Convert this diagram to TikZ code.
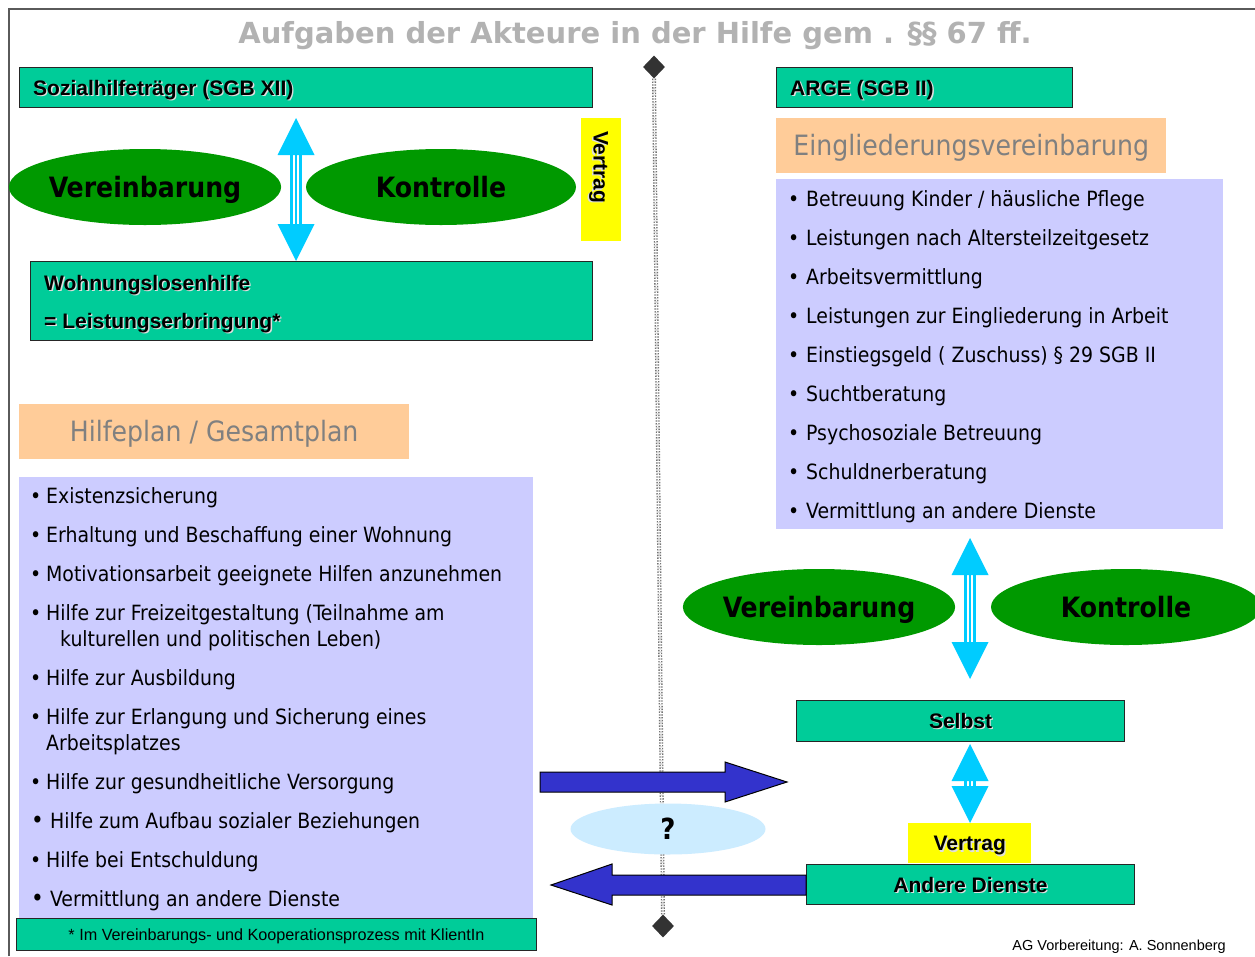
\documentclass[tikz,border=0pt]{standalone}
\usepackage{fontspec}
\setmainfont{Liberation Sans}
\newfontfamily\tah{DejaVu Sans Condensed}
\newfontfamily\verd{DejaVu Sans}
\usetikzlibrary{shapes.geometric,calc}
\definecolor{tealc}{HTML}{00CC99}
\definecolor{greenc}{HTML}{009900}
\definecolor{cyanc}{HTML}{00CCFF}
\definecolor{yelc}{HTML}{FFFF00}
\definecolor{orc}{HTML}{FFCC99}
\definecolor{lavc}{HTML}{CCCCFF}
\definecolor{bluec}{HTML}{3333CC}
\definecolor{lbc}{HTML}{CCECFF}
\definecolor{titlec}{HTML}{B2B2B2}
\definecolor{ortext}{HTML}{808080}
\definecolor{framec}{HTML}{5A5A5A}
\definecolor{diac}{HTML}{333333}
\newcommand\shtxt[1]{\makebox[0pt][l]{\kern1.3pt\raisebox{-1.3pt}{\color{white!75!gray}#1}}#1}
\newcommand\itm[2][16pt]{\makebox[#1][l]{•}#2}
\newcommand\itmb[2][19pt]{\makebox[#1][l]{\fontsize{24}{24}\selectfont\raisebox{-0.5pt}{•}}#2}
\newcommand\hdrfont{\bfseries\fontsize{21}{24}\selectfont}
\newcommand\cyanarrow[2]{%
  \fill[cyanc] (#1) -- ++(18.5,37) -- ++(-37,0) -- cycle;
  \fill[cyanc] (#2) -- ++(18.5,-37) -- ++(-37,0) -- cycle;
  \foreach \dx in {-4.5,0,4.5}
    \draw[cyanc,line width=2.6pt] ($(#1)+(\dx,36)$) -- ($(#2)+(\dx,-36)$);
}
\tikzset{
  box/.style={inner sep=0pt, anchor=north west},
  tealbox/.style={box, draw=black!85, line width=1pt, fill=tealc, font=\hdrfont, text height=15pt, text depth=0pt},
  orbox/.style={box, fill=orc, text=ortext, font=\tah\fontsize{28}{30}\selectfont, text height=20pt, text depth=0pt},
  lavbox/.style={box, fill=lavc},
  yelbox/.style={inner sep=0pt, fill=yelc, font=\hdrfont, text height=15pt, text depth=0pt},
  oval/.style={ellipse, fill=greenc, minimum width=270pt, minimum height=76pt, inner sep=0pt,
    font=\tah\bfseries\fontsize{28}{30}\selectfont, text height=20.5pt, text depth=0pt},
  hdr/.style={anchor=base west, inner sep=0pt, font=\hdrfont},
  li/.style={anchor=base west, inner sep=0pt, font=\tah\fontsize{21}{24}\selectfont},
  dia/.style={diamond, fill=diac, minimum width=22pt, minimum height=23pt, inner sep=0pt},
  dline/.style={draw=black!55, line width=1.4pt, dash pattern=on 1.4pt off 1.4pt, double=white, double distance=1.2pt},
  bluearr/.style={fill=bluec, draw=black, line width=1pt, line join=miter},
}
\begin{document}
\begin{tikzpicture}[x=1pt,y=-1pt]
\useasboundingbox (0,0) rectangle (1255,956);
\fill[white] (0,0) rectangle (1255,956);
\draw[framec, line width=2pt] (9,956) -- (9,8.5) -- (1255,8.5);

% title
\node[font=\verd\bfseries\fontsize{29}{31}\selectfont, text=titlec, anchor=base, inner sep=0pt] (title) at (635,43) {Aufgaben der Akteure in der Hilfe gem . §§ 67 ff.};

% centre divider
\node[dia] (dtop) at (654,67) {};
\node[dia] (dbot) at (663,926) {};
\draw[dline] (dtop.south) -- (dbot.north);

% left top
\node[tealbox, minimum width=573pt, minimum height=40pt] (soz) at (19,67) {};
\node[hdr] (sozt) at ($(soz.west)+(14,7.5)$) {\shtxt{Sozialhilfeträger (SGB XII)}};
\node[oval] (ver1) at (145,187) {Vereinbarung};
\node[oval] (kon1) at (441,187) {Kontrolle};
\node[yelbox, rotate=-90, minimum width=123pt, minimum height=40pt, text width=97pt, align=left, inner xsep=13pt] (vert1) at (601,179.5) {\shtxt{Vertrag}};
\node[tealbox, minimum width=562pt, minimum height=79pt] (woh) at (30,261) {};
\node[hdr] (woht1) at ($(woh.north west)+(14,29.5)$) {\shtxt{Wohnungslosenhilfe}};
\node[hdr] (woht2) at ($(woh.north west)+(14,67.5)$) {\shtxt{= Leistungserbringung*}};
\coordinate (a1t) at (296,118);
\coordinate (a1b) at (a1t |- woh.north);
\cyanarrow{a1t}{a1b}

% left plan
\node[orbox, minimum width=390pt, minimum height=55pt] (hp) at (19,404) {Hilfeplan / Gesamtplan};
\node[lavbox, minimum width=514pt, minimum height=441pt] (lavL) at (19,477) {};
\node[li] (l1) at (30,503) {\itm{Existenzsicherung}};
\node[li] (l2) at (30,542) {\itm{Erhaltung und Beschaffung einer Wohnung}};
\node[li] (l3) at (30,581) {\itm{Motivationsarbeit geeignete Hilfen anzunehmen}};
\node[li] (l4) at (30,620) {\itm{Hilfe zur Freizeitgestaltung (Teilnahme am}};
\node[li] (l4b) at (60,646) {kulturellen und politischen Leben)};
\node[li] (l5) at (30,685) {\itm{Hilfe zur Ausbildung}};
\node[li] (l6) at (30,724) {\itm{Hilfe zur Erlangung und Sicherung eines}};
\node[li] (l6b) at (46,750) {Arbeitsplatzes};
\node[li] (l7) at (30,789) {\itm{Hilfe zur gesundheitliche Versorgung}};
\node[li] (l8) at (31,828) {\itmb{Hilfe zum Aufbau sozialer Beziehungen}};
\node[li] (l9) at (30,867) {\itm{Hilfe bei Entschuldung}};
\node[li] (l10) at (31,906) {\itmb{Vermittlung an andere Dienste}};
\node[tealbox, minimum width=520pt, minimum height=32pt, font=\fontsize{16.2}{18}\selectfont, text height=11.5pt] (foot) at (16,918) {* Im Vereinbarungs- und Kooperationsprozess mit KlientIn};

% right top
\node[tealbox, minimum width=296pt, minimum height=40pt] (arge) at (776,67) {};
\node[hdr] (arget) at ($(arge.west)+(14,7.5)$) {\shtxt{ARGE (SGB II)}};
\node[orbox, minimum width=390pt, minimum height=55pt] (ev) at (776,118) {Eingliederungsvereinbarung};
\node[lavbox, minimum width=447pt, minimum height=350pt] (lavR) at (776,179) {};
\node[li] (r1) at (788,206) {\itm[18pt]{Betreuung Kinder / häusliche Pflege}};
\node[li] (r2) at (788,245) {\itm[18pt]{Leistungen nach Altersteilzeitgesetz}};
\node[li] (r3) at (788,284) {\itm[18pt]{Arbeitsvermittlung}};
\node[li] (r4) at (788,323) {\itm[18pt]{Leistungen zur Eingliederung in Arbeit}};
\node[li] (r5) at (788,362) {\itm[18pt]{Einstiegsgeld ( Zuschuss) § 29 SGB II}};
\node[li] (r6) at (788,401) {\itm[18pt]{Suchtberatung}};
\node[li] (r7) at (788,440) {\itm[18pt]{Psychosoziale Betreuung}};
\node[li] (r8) at (788,479) {\itm[18pt]{Schuldnerberatung}};
\node[li] (r9) at (788,518) {\itm[18pt]{Vermittlung an andere Dienste}};

\node[oval] (ver2) at (819,607) {Vereinbarung};
\node[oval] (kon2) at (1126,607) {Kontrolle};
\coordinate (a2t) at (970,538);
\coordinate (a2b) at (970,679);
\cyanarrow{a2t}{a2b}

\node[tealbox, minimum width=328pt, minimum height=41pt] (selbst) at (796,700) {\shtxt{Selbst}};
\node[yelbox, anchor=north west, minimum width=123pt, minimum height=40pt] (vert2) at (908,823) {\shtxt{Vertrag}};
\node[tealbox, minimum width=328pt, minimum height=40pt] (andere) at (806,864) {\shtxt{Andere Dienste}};
\coordinate (a3t) at ($(selbst.south -| 970,0)+(0,2)$);
\coordinate (a3b) at (vert2.north -| a3t);
\cyanarrow{a3t}{a3b}

% blue arrows and question
\draw[bluearr] (540,772) -- (725,772) -- (725,762) -- (787,782) -- (725,802) -- (725,792) -- (540,792) -- cycle;
\draw[bluearr] (andere.west |- 0,875) -- (612,875) -- (612,864) -- (551,885) -- (612,905) -- (612,895) -- (andere.west |- 0,895) -- cycle;
\node[ellipse, fill=lbc, minimum width=195pt, minimum height=51pt, inner sep=0pt, font=\tah\bfseries\fontsize{29}{31}\selectfont, text height=21pt, text depth=0pt] (q) at (668,829) {?};

\node[anchor=base east, inner sep=0pt, font=\fontsize{14.5}{16}\selectfont] (cred) at (1226,950) {AG Vorbereitung: A. Sonnenberg};
\end{tikzpicture}
\end{document}
